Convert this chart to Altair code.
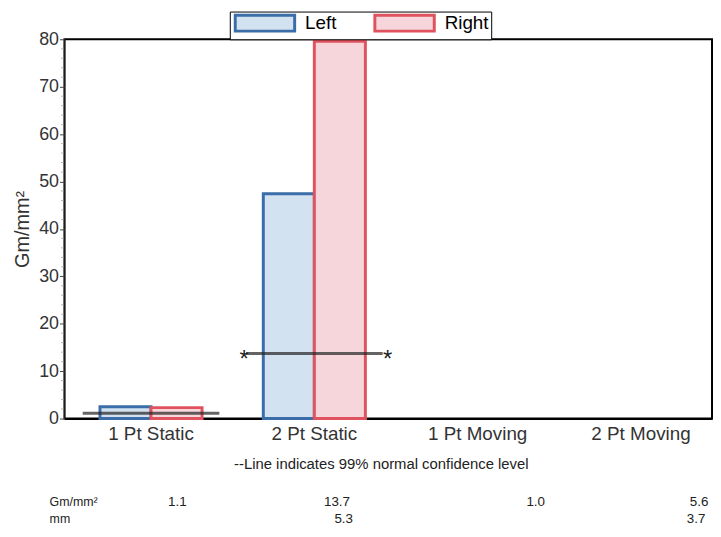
import altair as alt
import pandas as pd

categories = ["1 Pt Static", "2 Pt Static", "1 Pt Moving", "2 Pt Moving"]
sides = ["Left", "Right"]
left_values = [2.5, 47.4, None, None]
right_values = [2.3, 79.6, None, None]
ci_gm = [1.1, 13.7, 1.0, 5.6]
ci_mm = [None, 5.3, None, 3.7]
ci_drawn = [True, True, False, False]
ci_stars = [False, True, False, False]
major_ticks = list(range(0, 81, 10))
minor_ticks = [v for v in range(0, 81, 2) if v % 10 != 0]

rows = []
for c, l, r in zip(categories, left_values, right_values):
    rows.append({"category": c, "side": "Left", "value": l})
    rows.append({"category": c, "side": "Right", "value": r})
bars_df = pd.DataFrame(rows)

ci_df = pd.DataFrame({"category": categories, "level": ci_gm,
                      "drawn": ci_drawn, "stars": ci_stars})
ci_line_df = ci_df[ci_df["drawn"]]
ci_star_df = ci_df[ci_df["stars"]]

table_df = pd.DataFrame({
    "category": categories,
    "gm": [f"{v:.1f}" for v in ci_gm],
    "mm": [("" if v is None else f"{v:.1f}") for v in ci_mm],
    "grp": ["a", "a", "b", "b"],
})

FONT = "Liberation Sans"
W, H = 654, 383

xscale = alt.Scale(domain=categories, paddingInner=0.375, paddingOuter=0.17, align=0.64)
yscale = alt.Scale(domain=[0, 80], nice=False)

x_enc = alt.X("category:N", scale=xscale, sort=categories,
              axis=alt.Axis(title=None, labelAngle=0, labelFontSize=19,
                            labelColor="#333", labelFont=FONT, ticks=False,
                            labelPadding=6, domainColor="black", domainWidth=2))

y_axis = alt.Axis(title="Gm/mm²", values=major_ticks, labelFontSize=18,
                  labelColor="#333", labelFont=FONT, titleFont=FONT,
                  titleFontSize=20, titleFontWeight="normal", titleColor="#333",
                  titlePadding=6, grid=False, tickSize=5, tickColor="#444",
                  domainColor="#333", domainWidth=1, labelPadding=1)

color_scale = alt.Scale(domain=sides, range=["#d3e2f0", "#f6d6da"])
stroke_scale = alt.Scale(domain=sides, range=["#3b6ea8", "#e0535e"])

legend = alt.Legend(title=None, orient="none", legendX=167, legendY=-28,
                    direction="horizontal", strokeColor="black", padding=2,
                    fillColor="white", labelLimit=200,
                    symbolType="M-3.75,-1H3.75V1H-3.75Z", symbolSize=256,
                    symbolStrokeWidth=3, symbolOffset=24, labelOffset=31,
                    labelFontSize=19, labelFont=FONT, labelColor="black",
                    columnPadding=32)

bars = alt.Chart(bars_df).mark_bar(strokeWidth=3, opacity=1).encode(
    x=x_enc,
    xOffset=alt.XOffset("side:N", sort=sides, scale=alt.Scale(paddingInner=0)),
    y=alt.Y("value:Q", scale=yscale, axis=y_axis),
    fill=alt.Fill("side:N", scale=color_scale, legend=legend),
    stroke=alt.Stroke("side:N", scale=stroke_scale, legend=legend),
)

minor = alt.Chart(pd.DataFrame({"v": minor_ticks})).mark_tick(
    orient="horizontal", size=3, thickness=1, color="#999"
).encode(x=alt.value(-2), y=alt.Y("v:Q", scale=yscale))

ci = alt.Chart(ci_line_df).mark_tick(orient="horizontal", size=138, thickness=3,
                                     color="#222").encode(
    x=alt.X("category:N", scale=xscale, sort=categories),
    y=alt.Y("level:Q", scale=yscale),
)

star_l = alt.Chart(ci_star_df).mark_text(text="*", fontSize=24, font=FONT, dx=-71,
                                         dy=7, color="#222").encode(
    x=alt.X("category:N", scale=xscale, sort=categories),
    y=alt.Y("level:Q", scale=yscale),
)
star_r = alt.Chart(ci_star_df).mark_text(text="*", fontSize=24, font=FONT, dx=74,
                                         dy=7, color="#222").encode(
    x=alt.X("category:N", scale=xscale, sort=categories),
    y=alt.Y("level:Q", scale=yscale),
)

note = alt.Chart(pd.DataFrame({"t": ["--Line indicates 99% normal confidence level"]})).mark_text(
    fontSize=15, font=FONT, color="#222", align="center", baseline="middle"
).encode(x=alt.value(W / 2 - 7), y=alt.value(429), text="t:N")

def row_label(txt, ypix):
    return alt.Chart(pd.DataFrame({"t": [txt]})).mark_text(
        fontSize=12.5, font=FONT, color="#222", align="left", baseline="middle"
    ).encode(x=alt.value(-15), y=alt.value(ypix), text="t:N")

row_labels = [row_label("Gm/mm²", 467), row_label("mm", 485)]

def table_layer(grp, field, ypix, dx):
    d = table_df[table_df["grp"] == grp]
    return alt.Chart(d).mark_text(fontSize=13.5, font=FONT, color="#222", align="right",
                                  baseline="middle", dx=dx).encode(
        x=alt.X("category:N", scale=xscale, sort=categories),
        y=alt.value(ypix),
        text=f"{field}:N",
    )

tables = [table_layer("a", "gm", 467, 36), table_layer("b", "gm", 467, 68),
          table_layer("a", "mm", 485, 39), table_layer("b", "mm", 485, 65)]

chart = alt.layer(bars, minor, ci, star_l, star_r, note, *row_labels, *tables).properties(
    width=W, height=H,
    background="white",
    autosize=alt.AutoSizeParams(type="none"),
    padding={"left": 57, "top": 29, "right": 1, "bottom": 112},
).configure_view(stroke="black", strokeWidth=2)

chart.save("out.html", embed_options={"renderer": "svg", "actions": False})
